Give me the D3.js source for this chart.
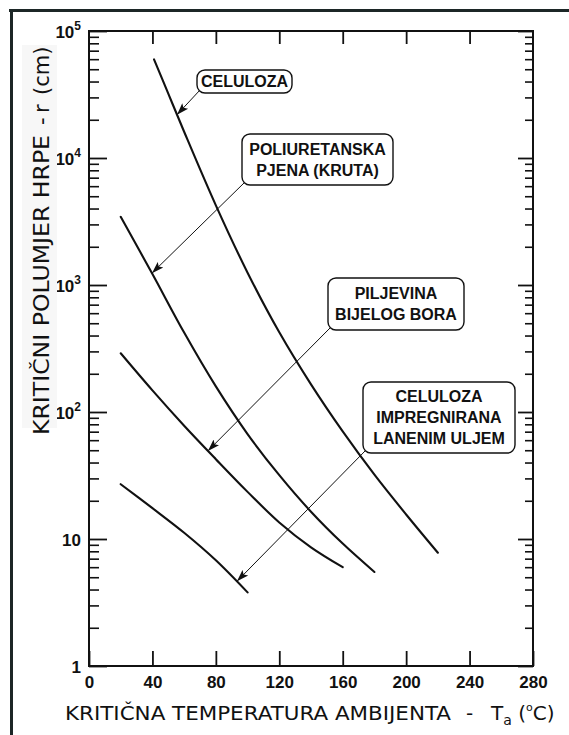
<!DOCTYPE html>
<html>
<head>
<meta charset="utf-8">
<script src="https://cdn.jsdelivr.net/npm/d3@7"></script>
<style>
  html, body { margin: 0; padding: 0; background: #fff; }
  svg { display: block; }
  text { font-family: "Liberation Sans", Arial, sans-serif; }
  .title { font-family: "DejaVu Sans", Verdana, sans-serif; }
</style>
</head>
<body>
<svg id="chart" width="569" height="735"></svg>
<script>
// Critical pile radius r (cm, log scale) against critical ambient temperature Ta (°C)
const tempsCeluloza = [41, 50, 60, 80, 100, 120, 140, 160, 180, 200, 220];
const radiusCeluloza = [59800, 32100, 16100, 4240, 1250, 424, 165, 70.3, 32.1, 15.6, 7.8];

const tempsPjena = [20, 40, 60, 80, 100, 120, 140, 160, 180];
const radiusPjena = [3440, 1220, 422, 159, 67, 31.8, 16.4, 9.2, 5.5];

const tempsPiljevina = [20, 40, 60, 80, 100, 120, 140, 160];
const radiusPiljevina = [290, 148, 78, 42.5, 23.5, 13.5, 8.6, 6.0];

const tempsImpregnirana = [20, 40, 60, 80, 100];
const radiusImpregnirana = [27, 17.5, 11.2, 6.8, 3.8];

const xTickValues = [0, 40, 80, 120, 160, 200, 240, 280];
const yDecades = [1, 10, 100, 1000, 10000, 100000];
const yTickBase = ["1", "10", "10", "10", "10", "10"];
const yTickExp = ["", "", "2", "3", "4", "5"];

const seriesLabels = [
  ["CELULOZA"],
  ["POLIURETANSKA", "PJENA (KRUTA)"],
  ["PILJEVINA", "BIJELOG BORA"],
  ["CELULOZA", "IMPREGNIRANA", "LANENIM ULJEM"]
];
// temperature at which each label's arrow meets its curve
const arrowTemps = [55.5, 39.7, 75, 93.3];

const xTitle = "KRITI\u010CNA TEMPERATURA AMBIJENTA";
const yTitle = "KRITI\u010CNI POLUMJER HRPE";

// ---- layout ----
const plot = { left: 89, right: 533, top: 31, bottom: 666 };
const labelBoxes = [
  { x: 197, y: 70,  w: 95,  h: 23 },
  { x: 242, y: 134, w: 151, h: 51 },
  { x: 328, y: 278, w: 136, h: 52 },
  { x: 363, y: 382, w: 152, h: 71 }
];
const ink = "#111";

const svg = d3.select("#chart");

// outer frame (top and left edges)
svg.append("line").attr("x1", 9).attr("x2", 569).attr("y1", 10.5).attr("y2", 10.5)
  .attr("stroke", "#1c2626").attr("stroke-width", 3);
svg.append("line").attr("x1", 11.5).attr("x2", 11.5).attr("y1", 9).attr("y2", 735)
  .attr("stroke", "#1c2626").attr("stroke-width", 3);

const x = d3.scaleLinear().domain([0, 280]).range([plot.left, plot.right]);
const y = d3.scaleLog().domain([1, 1e5]).range([plot.bottom, plot.top]);

const minorY = y.ticks().filter(v => !yDecades.includes(v));

function styleAxis(g, w) {
  g.select(".domain").remove();
  g.selectAll(".tick line").attr("stroke", ink).attr("stroke-width", w);
}

// y ticks, pointing inward on both sides
svg.append("g").attr("transform", `translate(${plot.left},0)`)
  .call(d3.axisLeft(y).tickValues(minorY).tickSize(-10).tickFormat(""))
  .call(g => styleAxis(g, 1.6));
svg.append("g").attr("transform", `translate(${plot.left},0)`)
  .call(d3.axisLeft(y).tickValues(yDecades).tickSize(-18).tickFormat(""))
  .call(g => styleAxis(g, 1.8));
svg.append("g").attr("transform", `translate(${plot.right},0)`)
  .call(d3.axisRight(y).tickValues(minorY).tickSize(-8).tickFormat(""))
  .call(g => styleAxis(g, 1.6));
svg.append("g").attr("transform", `translate(${plot.right},0)`)
  .call(d3.axisRight(y).tickValues(yDecades).tickSize(-15).tickFormat(""))
  .call(g => styleAxis(g, 1.8));

// x ticks on bottom (with labels) and top
const xAxisG = svg.append("g").attr("transform", `translate(0,${plot.bottom})`)
  .call(d3.axisBottom(x).tickValues(xTickValues).tickSize(-15).tickPadding(10).tickFormat(d3.format("d")))
  .call(g => styleAxis(g, 1.8));
xAxisG.selectAll(".tick text")
  .attr("fill", ink)
  .attr("font-family", "'Liberation Sans', Arial, sans-serif")
  .attr("font-weight", "bold")
  .attr("font-size", 17);
xAxisG.attr("font-family", null).attr("font-size", null);

svg.append("g").attr("transform", `translate(0,${plot.top})`)
  .call(d3.axisTop(x).tickValues(xTickValues.slice(1, -1)).tickSize(-13).tickFormat(""))
  .call(g => styleAxis(g, 1.8));

// y tick labels with power-of-ten superscripts
const yLab = svg.append("g").selectAll("text").data(yDecades).join("text")
  .attr("x", 81)
  .attr("y", d => y(d) + 6.5)
  .attr("text-anchor", "end")
  .attr("font-weight", "bold")
  .attr("font-size", 17)
  .attr("fill", ink);
yLab.append("tspan").text((d, i) => yTickBase[i]);
yLab.append("tspan")
  .attr("font-size", 12)
  .attr("dy", -8)
  .text((d, i) => yTickExp[i]);

// plot frame
svg.append("rect")
  .attr("x", plot.left).attr("y", plot.top)
  .attr("width", plot.right - plot.left).attr("height", plot.bottom - plot.top)
  .attr("fill", "none").attr("stroke", ink).attr("stroke-width", 2);

// curves
const series = [
  d3.zip(tempsCeluloza, radiusCeluloza),
  d3.zip(tempsPjena, radiusPjena),
  d3.zip(tempsPiljevina, radiusPiljevina),
  d3.zip(tempsImpregnirana, radiusImpregnirana)
];
const line = d3.line()
  .x(d => x(d[0]))
  .y(d => y(d[1]))
  .curve(d3.curveCatmullRom.alpha(0.5));

const paths = svg.append("g").selectAll("path").data(series).join("path")
  .attr("d", line)
  .attr("fill", "none")
  .attr("stroke", ink)
  .attr("stroke-width", 2.1)
  .attr("stroke-linecap", "round");

function pointAtX(node, px) {
  let lo = 0, hi = node.getTotalLength();
  for (let i = 0; i < 40; i++) {
    const mid = (lo + hi) / 2;
    if (node.getPointAtLength(mid).x < px) lo = mid; else hi = mid;
  }
  return node.getPointAtLength((lo + hi) / 2);
}

// arrowhead marker
svg.append("defs").append("marker")
  .attr("id", "head")
  .attr("markerUnits", "userSpaceOnUse")
  .attr("viewBox", "0 -5 12 10")
  .attr("refX", 12).attr("refY", 0)
  .attr("markerWidth", 12).attr("markerHeight", 10)
  .attr("orient", "auto")
  .append("path").attr("d", "M0,-4L12,0L0,4L2.5,0Z").attr("fill", ink);

// labels with arrows
const pathNodes = paths.nodes();
seriesLabels.forEach((lines, i) => {
  const b = labelBoxes[i];
  const tip = pointAtX(pathNodes[i], x(arrowTemps[i]));
  svg.append("line")
    .attr("x1", b.x + 3).attr("y1", b.y + b.h - 3)
    .attr("x2", tip.x).attr("y2", tip.y)
    .attr("stroke", ink).attr("stroke-width", 1)
    .attr("marker-end", "url(#head)");
  svg.append("rect")
    .attr("x", b.x).attr("y", b.y).attr("width", b.w).attr("height", b.h)
    .attr("rx", 8).attr("ry", 8)
    .attr("fill", "#fff").attr("stroke", ink).attr("stroke-width", 1.4);
  const cy = b.y + b.h / 2;
  lines.forEach((s, j) => {
    svg.append("text")
      .attr("x", b.x + b.w / 2)
      .attr("y", cy - (lines.length - 1) * 21 / 2 + j * 21 + 5.7)
      .attr("text-anchor", "middle")
      .attr("font-weight", "bold")
      .attr("font-size", 16)
      .attr("fill", ink)
      .text(s);
  });
});

// x axis title
const xt = svg.append("text")
  .attr("class", "title")
  .attr("y", 720)
  .attr("font-size", 20)
  .attr("fill", ink);
xt.append("tspan").attr("x", 65).attr("textLength", 386).attr("lengthAdjust", "spacingAndGlyphs").text(xTitle);
xt.append("tspan").attr("x", 466).text("-");
xt.append("tspan").attr("x", 491).text("T");
xt.append("tspan").attr("font-size", 14).attr("dy", 5).text("a");
xt.append("tspan").attr("font-size", 20).attr("dy", -5).text(" (");
xt.append("tspan").attr("font-size", 11).attr("dy", -9).text("o");
xt.append("tspan").attr("font-size", 20).attr("dy", 9).text("C)");

// y axis title (rotated) on a faint backing
svg.append("rect").attr("x", 22).attr("y", 45).attr("width", 35).attr("height", 383).attr("fill", "#f7f7f7");
const yt = svg.append("text")
  .attr("class", "title")
  .attr("transform", "translate(49,0) rotate(-90)")
  .attr("font-size", 21)
  .attr("fill", ink);
yt.append("tspan").attr("x", -435).attr("textLength", 300).attr("lengthAdjust", "spacingAndGlyphs").text(yTitle);
yt.append("tspan").attr("x", -125).text("-");
yt.append("tspan").attr("x", -113).text("r");
yt.append("tspan").attr("x", -95).text("(cm)");
</script>
</body>
</html>
